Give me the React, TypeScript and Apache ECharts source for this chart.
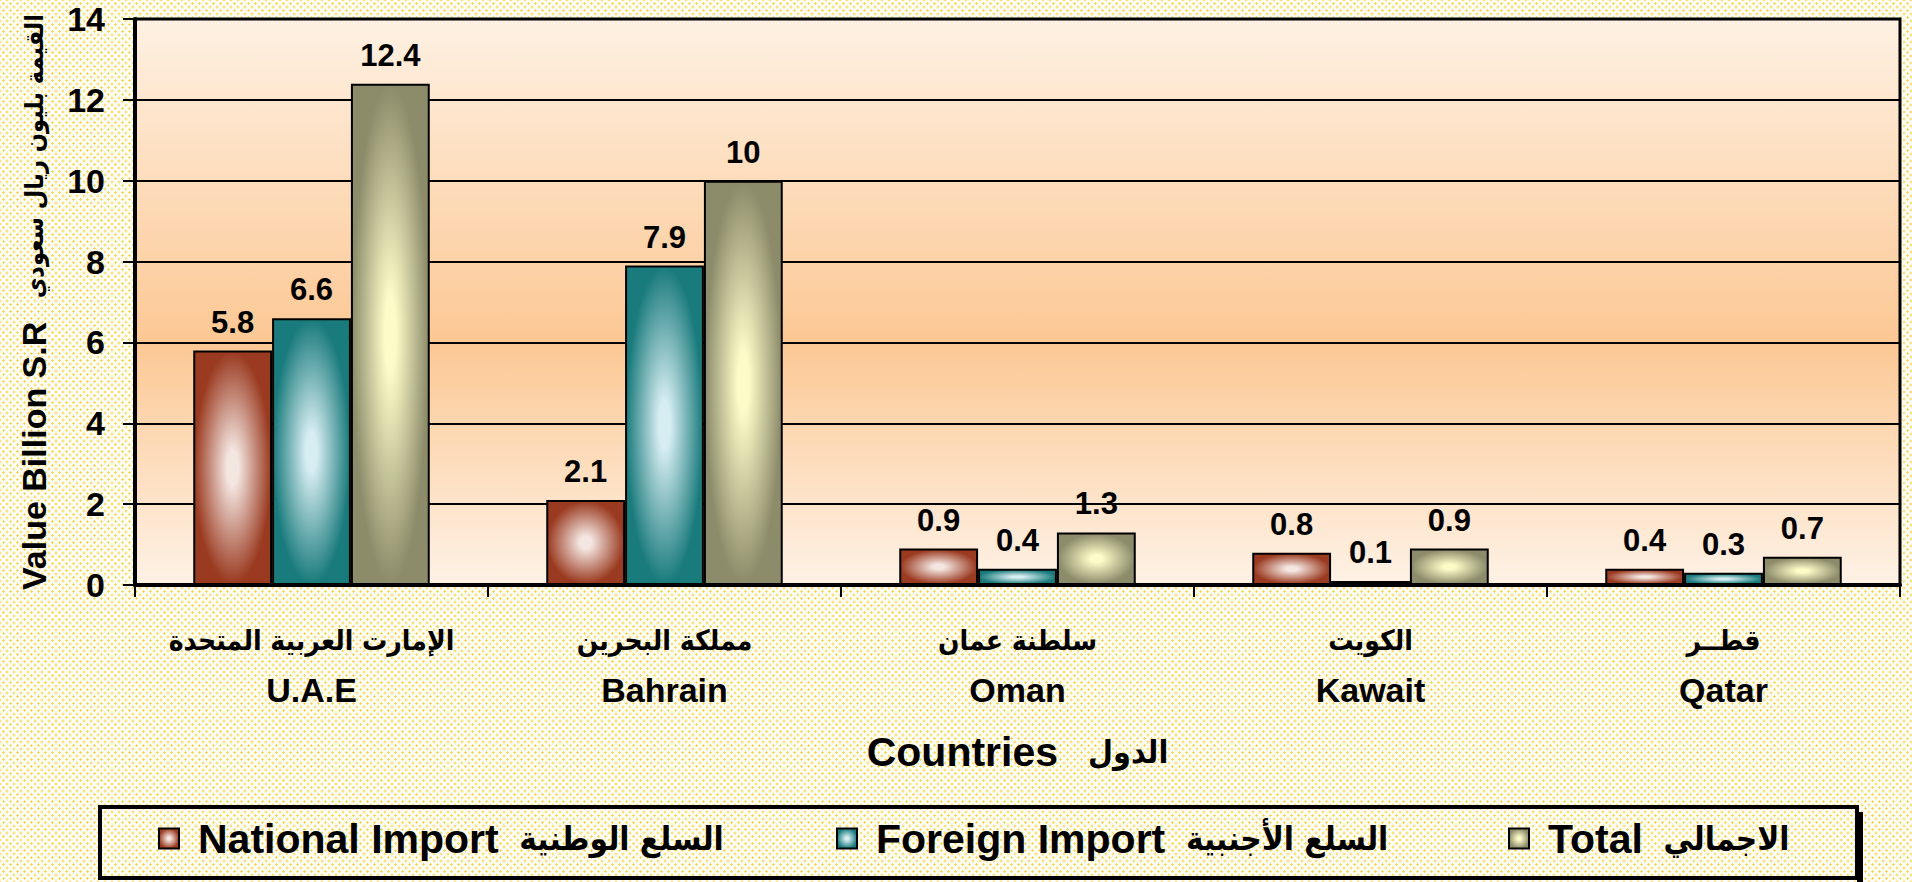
import React, { useEffect, useRef } from "react";
import * as echarts from "echarts";

const categoriesEn = ["U.A.E", "Bahrain", "Oman", "Kawait", "Qatar"];
const categoriesAr = ["الإمارت العربية المتحدة", "مملكة البحرين", "سلطنة عمان", "الكويت", "قطــر"];
const nationalImport = [5.8, 2.1, 0.9, 0.8, 0.4];
const foreignImport = [6.6, 7.9, 0.4, 0.1, 0.3];
const totalImport = [12.4, 10, 1.3, 0.9, 0.7];
const seriesNamesEn = ["National Import", "Foreign Import", "Total"];
const seriesNamesAr = ["السلع الوطنية", "السلع الأجنبية", "الاجمالي"];
const seriesColors = [
  { light: "#f4e6e1", dark: "#9a3a20" },
  { light: "#d6edf2", dark: "#1a7b7c" },
  { light: "#fcfcc8", dark: "#8c8b6a" },
];
const yAxisNameEn = "Value Billion S.R";
const yAxisNameAr = "القيمة بليون ريال سعودي";
const xAxisNameEn = "Countries";
const xAxisNameAr = "الدول";

const FONT = "'Liberation Sans', Arial, sans-serif";
const AR_FONT = "'DejaVu Sans Condensed', 'DejaVu Sans', sans-serif";

function grad(light: string, dark: string) {
  return {
    type: "radial",
    x: 0.5,
    y: 0.5,
    r: 0.5,
    colorStops: [
      { offset: 0, color: light },
      { offset: 0.15, color: light },
      { offset: 1, color: dark },
    ],
  };
}

export default function App() {
  const ref = useRef<HTMLDivElement>(null);
  useEffect(() => {
    if (!ref.current) return;
    const chart = echarts.init(ref.current, null, { renderer: "svg" });
    const dataSets = [nationalImport, foreignImport, totalImport];
    const legendLefts = [158, 836, 1508];
    const option: any = {
      animation: false,
      backgroundColor: "transparent",
      grid: {
        left: 135,
        right: 12,
        top: 19,
        bottom: 297,
        outerBoundsMode: "none",
        containLabel: false,
        show: true,
        borderColor: "#000",
        borderWidth: 3,
        backgroundColor: {
          type: "linear",
          x: 0,
          y: 0,
          x2: 0,
          y2: 1,
          colorStops: [
            { offset: 0, color: "#fef1e3" },
            { offset: 0.57, color: "#fcc894" },
            { offset: 1, color: "#fef2e6" },
          ],
        },
      },
      xAxis: {
        type: "category",
        data: categoriesEn,
        axisLine: { lineStyle: { color: "#000", width: 4 } },
        axisTick: { show: true, alignWithLabel: false, length: 12, lineStyle: { color: "#000", width: 2 } },
        axisLabel: {
          margin: 30,
          formatter: (v: string, i: number) => `{ar|${categoriesAr[i]}}\n{en|${v}}`,
          rich: {
            ar: { fontSize: 28, fontWeight: "bold", fontFamily: AR_FONT, color: "#000", lineHeight: 50 },
            en: { fontSize: 34, fontWeight: "bold", fontFamily: FONT, color: "#000", lineHeight: 50 },
          },
        },
        name: `{en|${xAxisNameEn}}{ar|   ${xAxisNameAr}}`,
        nameLocation: "middle",
        nameGap: 146,
        nameTextStyle: {
          rich: {
            en: { fontSize: 41, fontWeight: "bold", fontFamily: FONT, color: "#000" },
            ar: { fontSize: 32, fontWeight: "bold", fontFamily: AR_FONT, color: "#000" },
          },
        },
      },
      yAxis: {
        type: "value",
        min: 0,
        max: 14,
        interval: 2,
        axisLine: { show: true, lineStyle: { color: "#000", width: 4 } },
        axisTick: { show: true, length: 12, lineStyle: { color: "#000", width: 2 } },
        splitLine: { show: true, lineStyle: { color: "#000", width: 2 } },
        axisLabel: { margin: 30, fontSize: 34, lineHeight: 30, fontWeight: "bold", fontFamily: FONT, color: "#000" },
        name: `{en|${yAxisNameEn}}{ar|   ${yAxisNameAr}}`,
        nameLocation: "middle",
        nameRotate: 90,
        nameGap: 84,
        nameTextStyle: {
          rich: {
            en: { fontSize: 34, fontWeight: "bold", fontFamily: FONT, color: "#000" },
            ar: { fontSize: 25, fontWeight: "bold", fontFamily: AR_FONT, color: "#000" },
          },
        },
      },
      legend: seriesNamesEn.map((n, i) => ({
        data: [n],
        left: legendLefts[i],
        top: 818,
        icon: "rect",
        itemWidth: 20,
        itemHeight: 20,
        itemGap: 0,
        padding: 0,
        selectedMode: false,
        itemStyle: { borderColor: "#000", borderWidth: 2 },
        formatter: (name: string) => `{en|${name}}{ar|  ${seriesNamesAr[i]}}`,
        textStyle: {
          rich: {
            en: { fontSize: 41, fontWeight: "bold", fontFamily: FONT, color: "#000", padding: [0, 0, 0, 14] },
            ar: { fontSize: 33, fontWeight: "bold", fontFamily: AR_FONT, color: "#000" },
          },
        },
      })),
      graphic: [
        { type: "rect", shape: { x: 1857, y: 812, width: 6, height: 70 }, style: { fill: "#000" }, z: 0 },
        { type: "rect", shape: { x: 100, y: 807, width: 1757, height: 71 }, style: { fill: "none", stroke: "#000", lineWidth: 4 }, z: 0 },
      ],
      series: dataSets.map((d, i) => ({
        name: seriesNamesEn[i],
        type: "bar",
        data: d,
        barGap: "0%",
        barCategoryGap: "33%",
        itemStyle: {
          color: grad(seriesColors[i].light, seriesColors[i].dark),
          borderColor: "#000",
          borderWidth: 2,
        },
        label: {
          show: true,
          position: "top",
          distance: 13,
          fontSize: 31,
          fontWeight: "bold",
          fontFamily: FONT,
          color: "#000",
        },
      })),
    };
    chart.setOption(option);
    return () => chart.dispose();
  }, []);
  return (
    <div
      style={{
        position: "fixed",
        left: 0,
        top: 0,
        width: 1912,
        height: 882,
        background:
          "radial-gradient(circle, #f6d24a 0.9px, transparent 1.4px) 0 0 / 7px 7px, radial-gradient(circle, #f6d24a 0.9px, transparent 1.4px) 3.5px 3.5px / 7px 7px, #fffef4",
      }}
    >
      <div ref={ref} style={{ width: 1912, height: 882 }} />
    </div>
  );
}
